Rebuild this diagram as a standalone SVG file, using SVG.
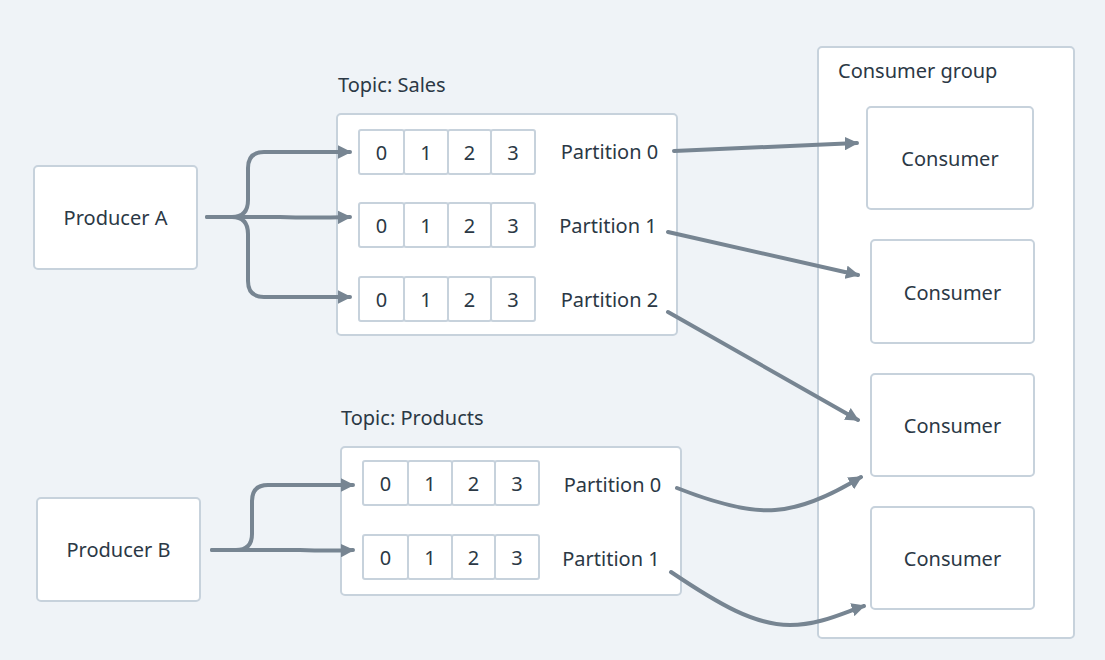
<svg xmlns="http://www.w3.org/2000/svg" width="1105" height="660" viewBox="0 0 1105 660">
<defs>
<marker id="arr" viewBox="0 0 10 10" refX="9" refY="5" markerWidth="3.4" markerHeight="3.4" orient="auto" markerUnits="strokeWidth">
<path d="M0,0 L10,5 L0,10 z" fill="#778592"/>
</marker>
<style>
.box{fill:#ffffff;stroke:#c7d2dc;stroke-width:2}
.cell{fill:#ffffff;stroke:#c7d2dc;stroke-width:2}
.t{font-family:"Noto Sans","Open Sans",sans-serif;font-size:20px;fill:#2b3845}
.c{text-anchor:middle;dominant-baseline:central}
.con{fill:none;stroke:#778592;stroke-width:4;stroke-linecap:round;stroke-linejoin:round}
</style>
</defs>
<rect width="1105" height="660" fill="#eff3f7"/>

<g id="consumer-group">
<rect class="box" x="818" y="47" width="256" height="591" rx="4"/>
<text class="t" x="838" y="78">Consumer group</text>
</g>

<g id="producer-a">
<rect class="box" x="34" y="166" width="163" height="103" rx="4"/>
<text class="t c" x="115.5" y="217">Producer A</text>
</g>
<g id="producer-b">
<rect class="box" x="37" y="498" width="163" height="103" rx="4"/>
<text class="t c" x="118.5" y="549">Producer B</text>
</g>

<g id="topic-sales">
<text class="t" x="338" y="92">Topic: Sales</text>
<rect class="box" x="337" y="114" width="340" height="221" rx="4"/>
<g id="sales-p0">
<rect class="cell" x="359" y="130" width="45" height="44" rx="2"/>
<rect class="cell" x="404" y="130" width="44" height="44" rx="2"/>
<rect class="cell" x="448" y="130" width="43" height="44" rx="2"/>
<rect class="cell" x="491" y="130" width="44" height="44" rx="2"/>
<text class="t c" x="381.5" y="152">0</text><text class="t c" x="426" y="152">1</text><text class="t c" x="469.5" y="152">2</text><text class="t c" x="513" y="152">3</text>
<text class="t c" x="609.5" y="151">Partition 0</text>
</g>
<g id="sales-p1">
<rect class="cell" x="359" y="203" width="45" height="44" rx="2"/>
<rect class="cell" x="404" y="203" width="44" height="44" rx="2"/>
<rect class="cell" x="448" y="203" width="43" height="44" rx="2"/>
<rect class="cell" x="491" y="203" width="44" height="44" rx="2"/>
<text class="t c" x="381.5" y="225">0</text><text class="t c" x="426" y="225">1</text><text class="t c" x="469.5" y="225">2</text><text class="t c" x="513" y="225">3</text>
<text class="t c" x="608" y="225">Partition 1</text>
</g>
<g id="sales-p2">
<rect class="cell" x="359" y="277" width="45" height="44" rx="2"/>
<rect class="cell" x="404" y="277" width="44" height="44" rx="2"/>
<rect class="cell" x="448" y="277" width="43" height="44" rx="2"/>
<rect class="cell" x="491" y="277" width="44" height="44" rx="2"/>
<text class="t c" x="381.5" y="299">0</text><text class="t c" x="426" y="299">1</text><text class="t c" x="469.5" y="299">2</text><text class="t c" x="513" y="299">3</text>
<text class="t c" x="609.5" y="299">Partition 2</text>
</g>
</g>

<g id="topic-products">
<text class="t" x="341" y="425">Topic: Products</text>
<rect class="box" x="341" y="447" width="340" height="148" rx="4"/>
<g id="products-p0">
<rect class="cell" x="363" y="461" width="45" height="44" rx="2"/>
<rect class="cell" x="408" y="461" width="44" height="44" rx="2"/>
<rect class="cell" x="452" y="461" width="43" height="44" rx="2"/>
<rect class="cell" x="495" y="461" width="44" height="44" rx="2"/>
<text class="t c" x="385.5" y="483">0</text><text class="t c" x="430" y="483">1</text><text class="t c" x="473.5" y="483">2</text><text class="t c" x="517" y="483">3</text>
<text class="t c" x="612.5" y="484">Partition 0</text>
</g>
<g id="products-p1">
<rect class="cell" x="363" y="535" width="45" height="44" rx="2"/>
<rect class="cell" x="408" y="535" width="44" height="44" rx="2"/>
<rect class="cell" x="452" y="535" width="43" height="44" rx="2"/>
<rect class="cell" x="495" y="535" width="44" height="44" rx="2"/>
<text class="t c" x="385.5" y="557">0</text><text class="t c" x="430" y="557">1</text><text class="t c" x="473.5" y="557">2</text><text class="t c" x="517" y="557">3</text>
<text class="t c" x="611" y="558">Partition 1</text>
</g>
</g>

<g id="consumer-1">
<rect class="box" x="867" y="107" width="166" height="102" rx="4"/>
<text class="t c" x="950" y="158">Consumer</text>
</g>
<g id="consumer-2">
<rect class="box" x="871" y="240" width="163" height="103" rx="4"/>
<text class="t c" x="952.5" y="292">Consumer</text>
</g>
<g id="consumer-3">
<rect class="box" x="871" y="374" width="163" height="102" rx="4"/>
<text class="t c" x="952.5" y="425">Consumer</text>
</g>
<g id="consumer-4">
<rect class="box" x="871" y="507" width="163" height="102" rx="4"/>
<text class="t c" x="952.5" y="558">Consumer</text>
</g>

<g id="connectors">
<path class="con" d="M207,217 L232,217 Q248,217 248,200 L248,168 Q248,152 264,152 L350,152" marker-end="url(#arr)"/>
<path class="con" d="M207,217 L280,217 Q310,218 350,217" marker-end="url(#arr)"/>
<path class="con" d="M232,217 Q248,217 248,234 L248,281 Q248,297 264,297 L350,297" marker-end="url(#arr)"/>
<path class="con" d="M212,550 L236,550 Q252,550 252,534 L252,501 Q252,485 268,485 L353,485" marker-end="url(#arr)"/>
<path class="con" d="M212,550 L300,550 Q330,551 353,550" marker-end="url(#arr)"/>
<path class="con" d="M674,151 L857,143" marker-end="url(#arr)"/>
<path class="con" d="M668,232 L858,275" marker-end="url(#arr)"/>
<path class="con" d="M668,312 L858,420" marker-end="url(#arr)"/>
<path class="con" d="M677,488 C720,505 750,512 775,510 C805,508 835,493 861,477" marker-end="url(#arr)"/>
<path class="con" d="M671,572 C720,605 755,625 790,625 C820,625 845,612 864,606" marker-end="url(#arr)"/>
</g>
</svg>
